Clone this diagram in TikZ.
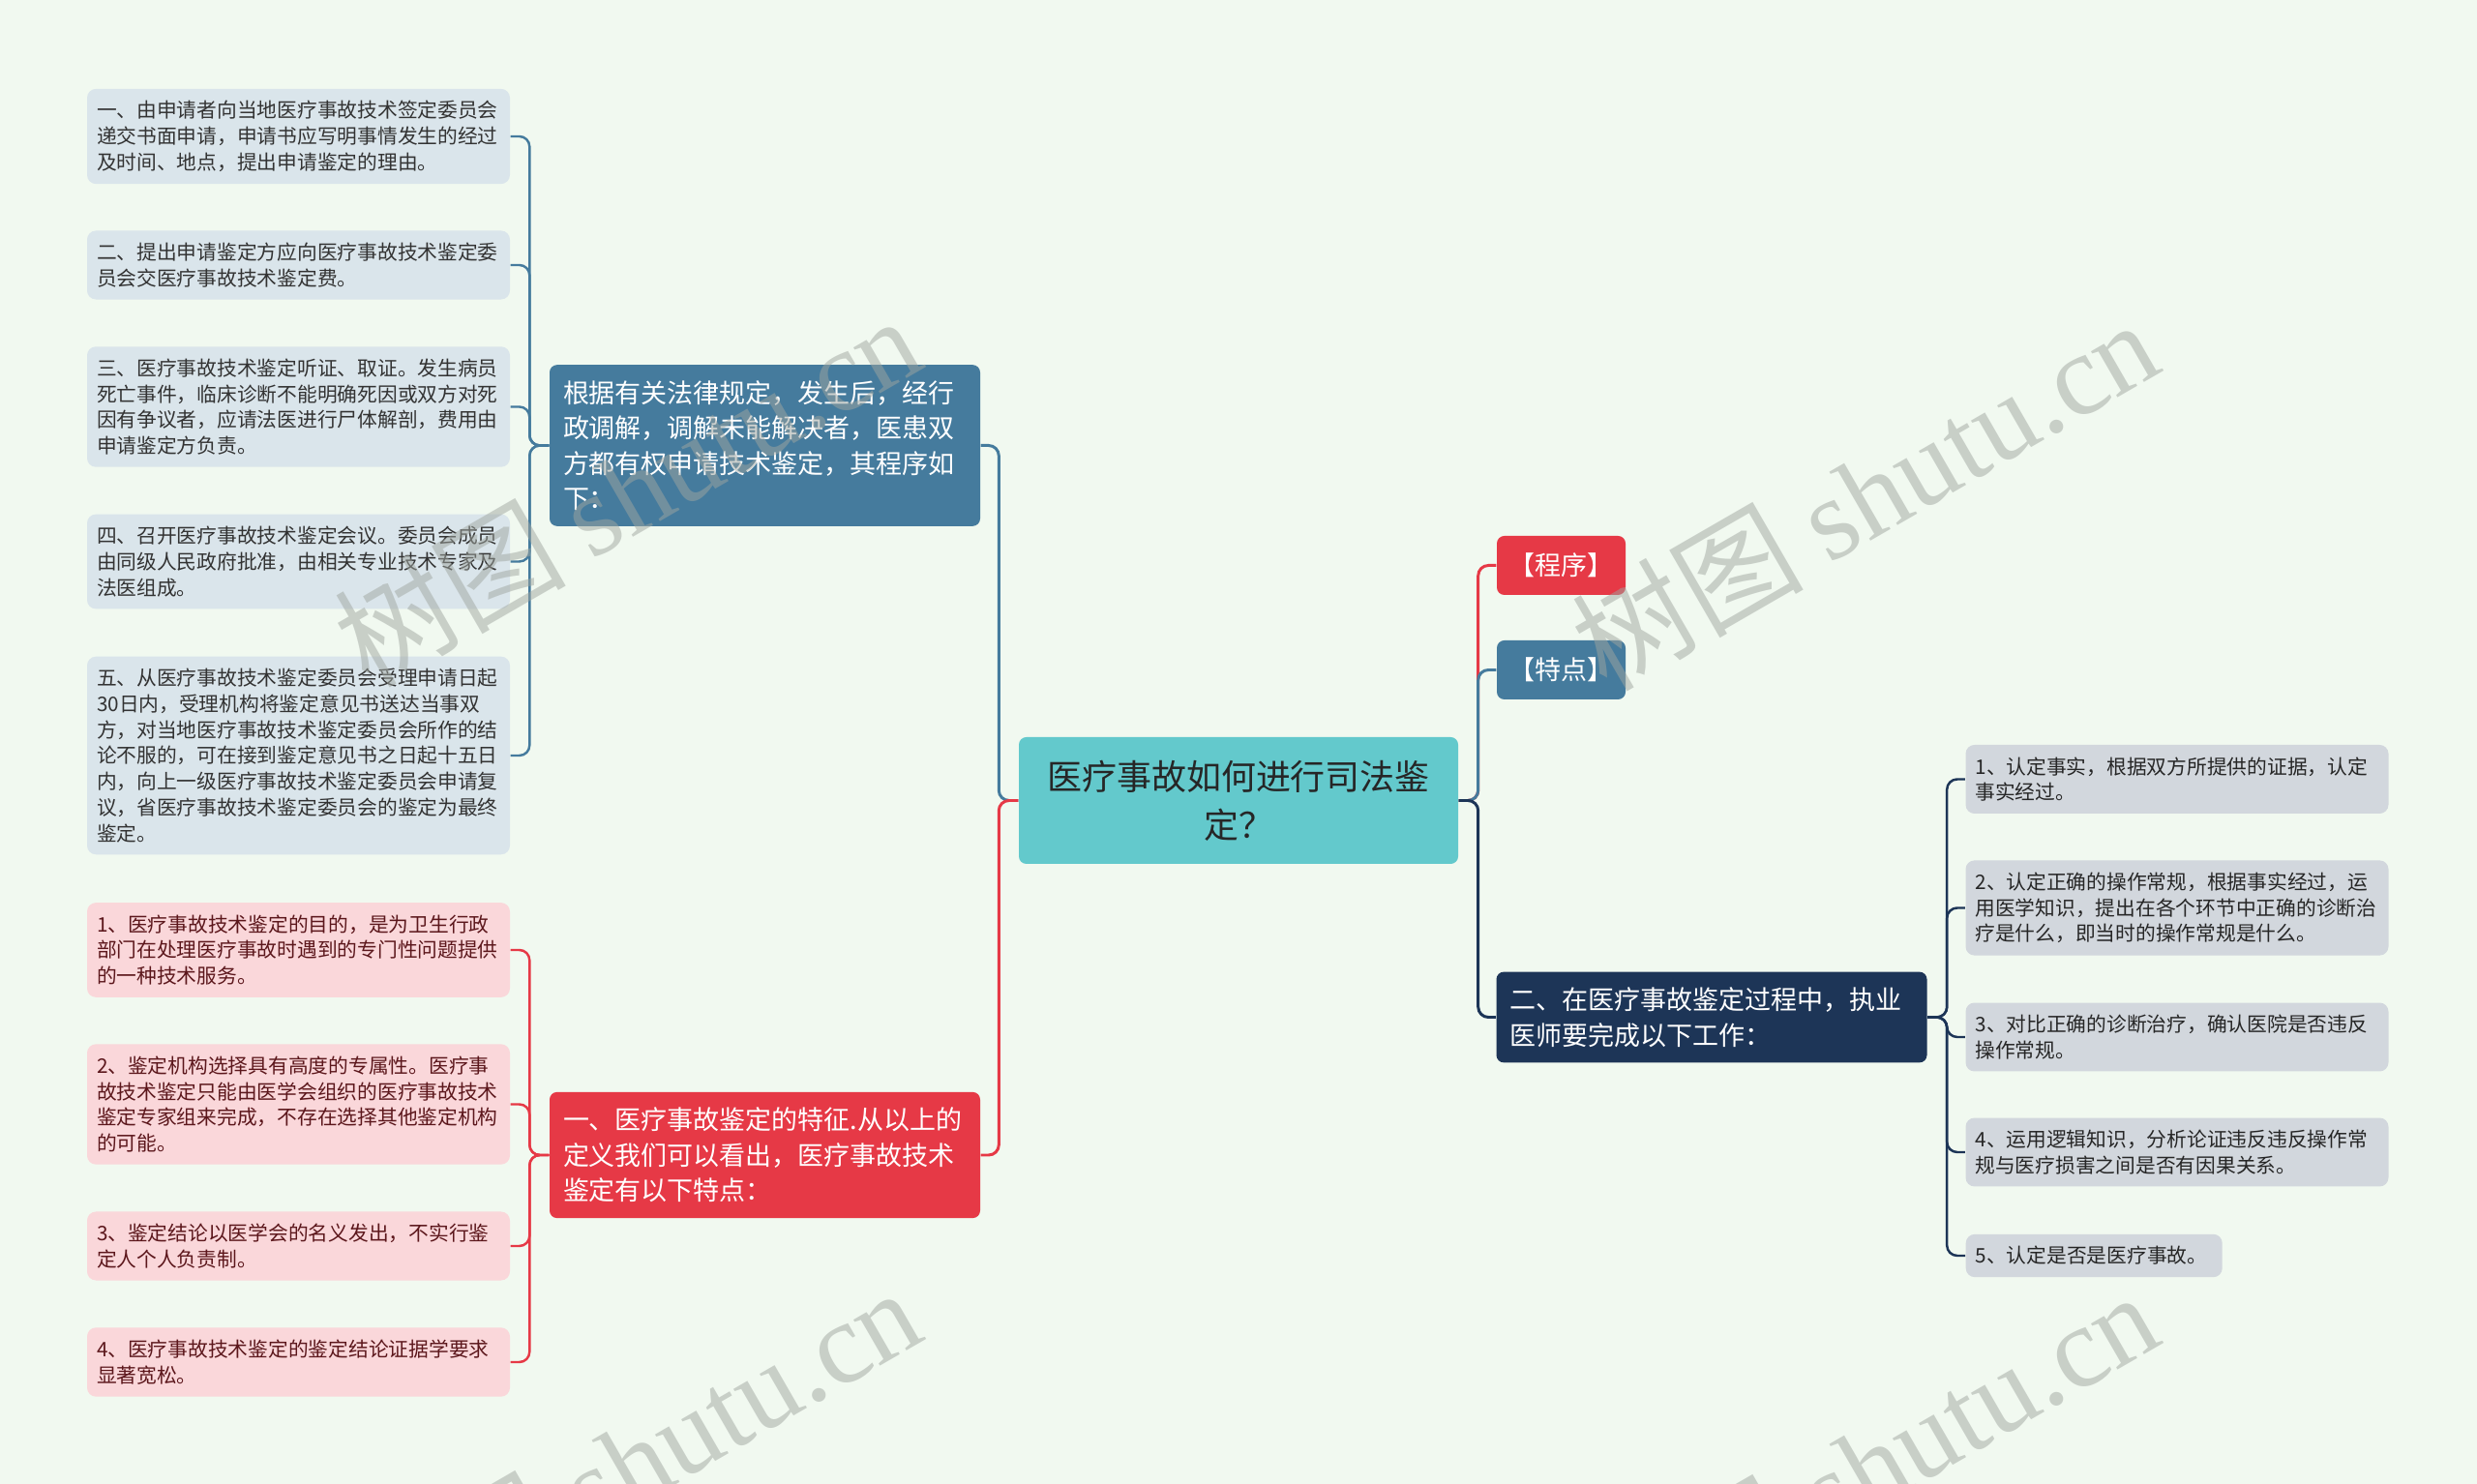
\documentclass[tikz,border=0pt]{standalone}
\usepackage{fontspec}
\setmainfont{Noto Sans CJK SC}
\newfontfamily\wmlatin{Liberation Serif}
\definecolor{mdBg}{RGB}{241,249,240}
\definecolor{mdTeal}{RGB}{99,201,204}
\definecolor{mdBlue}{RGB}{69,123,157}
\definecolor{mdRed}{RGB}{230,57,70}
\definecolor{mdNavy}{RGB}{29,53,87}
\definecolor{mdMark}{RGB}{160,166,160}

\begin{document}
\begin{tikzpicture}[x=1cm, y=-1cm,
  leaf/.style={rounded corners=2.6pt, text width=4.17cm, align=left, inner xsep=0.1cm, inner ysep=0.125cm, font=\fontsize{5.9pt}{7.6pt}\selectfont},
  blueleaf/.style={leaf, fill=mdBlue!20!white, text=black!80},
  redleaf/.style={leaf, fill=mdRed!20!white, text=mdRed!40!black},
  navyleaf/.style={leaf, fill=mdNavy!20!white, text=black!85},
  branch/.style={rounded corners=2.2pt, text width=4.17cm, align=left, inner xsep=0.14cm, inner ysep=0.16cm, text=white, font=\fontsize{7.68pt}{10.4pt}\selectfont},
  tag/.style={rounded corners=2.2pt, minimum width=1.33cm, minimum height=0.61cm, inner sep=0pt, text=white, font=\fontsize{7.68pt}{10.4pt}\selectfont},
  root/.style={rounded corners=2.2pt, fill=mdTeal, text=black!85, text width=4.1cm, align=center, inner xsep=0.22cm, minimum height=1.31cm, font=\fontsize{10.24pt}{14.2pt}\selectfont},
  link/.style={line width=0.85pt, rounded corners=3pt},
  twig/.style={line width=0.7pt, rounded corners=3pt},
  wmark/.style={text=mdMark, text opacity=0.5, rotate=30, font=\fontsize{34pt}{34pt}\selectfont}]
\fill[mdBg] (0,0) rectangle (25.6,15.34);
\useasboundingbox (0,0) rectangle (25.6,15.34);
\clip (0,0) rectangle (25.6,15.34);

%% Centre and main branches
\node[root] (root) at (12.80,8.275) {医疗事故如何进行司法鉴\\定？};
\node[branch, fill=mdBlue] (proc) at (7.905,4.605) {根据有关法律规定，发生后，经行\\政调解，调解未能解决者，医患双\\方都有权申请技术鉴定，其程序如\\下：};
\node[branch, fill=mdRed] (feat) at (7.905,11.94) {一、医疗事故鉴定的特征.从以上的\\定义我们可以看出，医疗事故技术\\鉴定有以下特点：};
\node[tag, fill=mdRed] (tproc) at (16.135,5.845) {【程序】};
\node[tag, fill=mdBlue] (tfeat) at (16.135,6.925) {【特点】};
\node[branch, fill=mdNavy] (work) at (17.69,10.515) {二、在医疗事故鉴定过程中，执业\\医师要完成以下工作：};

%% Procedure steps
\node[blueleaf] (p1) at (3.085,1.41) {一、由申请者向当地医疗事故技术签定委员会\\递交书面申请，申请书应写明事情发生的经过\\及时间、地点，提出申请鉴定的理由。};
\node[blueleaf] (p2) at (3.085,2.74) {二、提出申请鉴定方应向医疗事故技术鉴定委\\员会交医疗事故技术鉴定费。};
\node[blueleaf] (p3) at (3.085,4.205) {三、医疗事故技术鉴定听证、取证。发生病员\\死亡事件，临床诊断不能明确死因或双方对死\\因有争议者，应请法医进行尸体解剖，费用由\\申请鉴定方负责。};
\node[blueleaf] (p4) at (3.085,5.805) {四、召开医疗事故技术鉴定会议。委员会成员\\由同级人民政府批准，由相关专业技术专家及\\法医组成。};
\node[blueleaf] (p5) at (3.085,7.81) {五、从医疗事故技术鉴定委员会受理申请日起\\30日内，受理机构将鉴定意见书送达当事双\\方，对当地医疗事故技术鉴定委员会所作的结\\论不服的，可在接到鉴定意见书之日起十五日\\内，向上一级医疗事故技术鉴定委员会申请复\\议，省医疗事故技术鉴定委员会的鉴定为最终\\鉴定。};

%% Features
\node[redleaf] (f1) at (3.085,9.82) {1、医疗事故技术鉴定的目的，是为卫生行政\\部门在处理医疗事故时遇到的专门性问题提供\\的一种技术服务。};
\node[redleaf] (f2) at (3.085,11.415) {2、鉴定机构选择具有高度的专属性。医疗事\\故技术鉴定只能由医学会组织的医疗事故技术\\鉴定专家组来完成，不存在选择其他鉴定机构\\的可能。};
\node[redleaf] (f3) at (3.085,12.88) {3、鉴定结论以医学会的名义发出，不实行鉴\\定人个人负责制。};
\node[redleaf] (f4) at (3.085,14.08) {4、医疗事故技术鉴定的鉴定结论证据学要求\\显著宽松。};

%% Physician tasks
\node[navyleaf] (w1) at (22.50,8.055) {1、认定事实，根据双方所提供的证据，认定\\事实经过。};
\node[navyleaf] (w2) at (22.50,9.385) {2、认定正确的操作常规，根据事实经过，运\\用医学知识，提出在各个环节中正确的诊断治\\疗是什么，即当时的操作常规是什么。};
\node[navyleaf] (w3) at (22.50,10.72) {3、对比正确的诊断治疗，确认医院是否违反\\操作常规。};
\node[navyleaf] (w4) at (22.50,11.91) {4、运用逻辑知识，分析论证违反违反操作常\\规与医疗损害之间是否有因果关系。};
\node[navyleaf, text width=2.45cm, anchor=west] (w5) at (20.31,12.98) {5、认定是否是医疗事故。};

%% Connectors
\draw[link, mdBlue] (root.west) -- ++(-0.2,0) |- (proc.east);
\draw[link, mdRed]  (root.west) -- ++(-0.2,0) |- (feat.east);
\draw[link, mdRed]  (root.east) -- ++(0.2,0) |- (tproc.west);
\draw[link, mdBlue] (root.east) -- ++(0.2,0) |- (tfeat.west);
\draw[link, mdNavy] (root.east) -- ++(0.2,0) |- (work.west);

\draw[twig, mdBlue] (proc.west) -- ++(-0.2,0) |- (p1.east);
\draw[twig, mdBlue] (proc.west) -- ++(-0.2,0) |- (p2.east);
\draw[twig, mdBlue] (proc.west) -- ++(-0.2,0) |- (p3.east);
\draw[twig, mdBlue] (proc.west) -- ++(-0.2,0) |- (p4.east);
\draw[twig, mdBlue] (proc.west) -- ++(-0.2,0) |- (p5.east);

\draw[twig, mdRed] (feat.west) -- ++(-0.2,0) |- (f1.east);
\draw[twig, mdRed] (feat.west) -- ++(-0.2,0) |- (f2.east);
\draw[twig, mdRed] (feat.west) -- ++(-0.2,0) |- (f3.east);
\draw[twig, mdRed] (feat.west) -- ++(-0.2,0) |- (f4.east);

\draw[twig, mdNavy] (work.east) -- ++(0.2,0) |- (w1.west);
\draw[twig, mdNavy] (work.east) -- ++(0.2,0) |- (w2.west);
\draw[twig, mdNavy] (work.east) -- ++(0.2,0) |- (w3.west);
\draw[twig, mdNavy] (work.east) -- ++(0.2,0) |- (w4.west);
\draw[twig, mdNavy] (work.east) -- ++(0.2,0) |- (w5.west);

%% Watermarks
\node[wmark] (wm1) at (6.48,5.06) {树图 {\wmlatin shutu.cn}};
\node[wmark] (wm2) at (19.27,5.10) {树图 {\wmlatin shutu.cn}};
\node[wmark] (wm3) at (6.48,15.11) {树图 {\wmlatin shutu.cn}};
\node[wmark] (wm4) at (19.27,15.15) {树图 {\wmlatin shutu.cn}};
\end{tikzpicture}
\end{document}
